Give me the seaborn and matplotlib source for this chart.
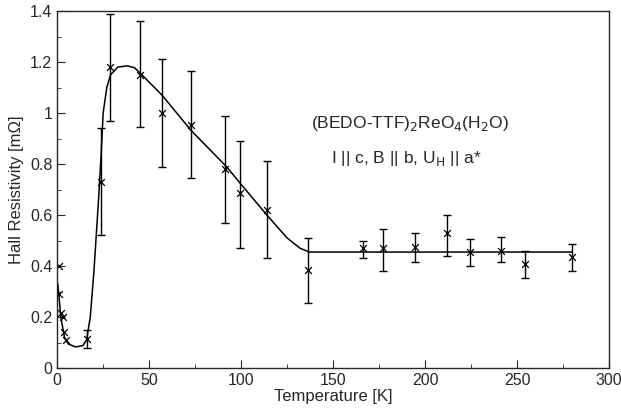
import numpy as np
import pandas as pd
import seaborn as sns
import matplotlib.pyplot as plt
from matplotlib.ticker import MultipleLocator

# measured points
temp = [1, 1, 2, 3, 4, 5, 16, 24, 29, 45, 57, 73, 91, 99.5, 114, 136.5, 166, 177, 194.5, 212, 224.5, 241, 254, 280]
rho = [0.40, 0.29, 0.215, 0.20, 0.14, 0.11, 0.115, 0.73, 1.18, 1.15, 1.00, 0.955, 0.78, 0.685, 0.62, 0.385,
       0.47, 0.47, 0.475, 0.53, 0.455, 0.46, 0.41, 0.435]
err_lo = [0, 0, 0, 0, 0, 0, 0.08, 0.52, 0.97, 0.945, 0.79, 0.745, 0.57, 0.47, 0.43, 0.255,
          0.43, 0.38, 0.415, 0.44, 0.40, 0.415, 0.355, 0.38]
err_hi = [0, 0, 0, 0, 0, 0, 0.15, 0.94, 1.39, 1.36, 1.21, 1.165, 0.99, 0.89, 0.81, 0.51,
          0.50, 0.545, 0.53, 0.60, 0.505, 0.515, 0.46, 0.485]

# guide curve
fit_t = [0.4, 2, 4, 6, 10, 14, 16, 18, 20, 22.5, 24, 25, 27, 29, 33, 38, 42, 46, 57, 73, 92, 100, 114,
         125, 132, 137, 280]
fit_r = [0.33, 0.20, 0.12, 0.095, 0.083, 0.088, 0.11, 0.2, 0.38, 0.66, 0.85, 1.00, 1.10, 1.15, 1.18, 1.185,
         1.178, 1.15, 1.07, 0.93, 0.79, 0.72, 0.60, 0.51, 0.47, 0.455, 0.455]

df = pd.DataFrame({'T': temp, 'R': rho, 'lo': err_lo, 'hi': err_hi})
df_fit = pd.DataFrame({'T': fit_t, 'R': fit_r})

sns.set_style('ticks')
plt.rcParams['font.family'] = ['Liberation Sans', 'DejaVu Sans']

fig, ax = plt.subplots(figsize=(6.21, 4.15), dpi=100)
fig.subplots_adjust(left=0.092, right=0.981, bottom=0.113, top=0.9735)

sns.lineplot(data=df_fit, x='T', y='R', color='black', lw=1.1, ax=ax)

eb = df[df['hi'] > 0]
ax.errorbar(eb['T'], eb['R'], yerr=[eb['R'] - eb['lo'], eb['hi'] - eb['R']],
            fmt='none', ecolor='black', elinewidth=1.0, capsize=3, capthick=1.0)
sns.scatterplot(data=df, x='T', y='R', marker='x', color='black', s=24, linewidth=0.9, ax=ax)

ax.set_xlim(0, 300)
ax.set_ylim(0, 1.4)
ax.xaxis.set_major_locator(MultipleLocator(50))
ax.xaxis.set_minor_locator(MultipleLocator(25))
ax.yaxis.set_major_locator(MultipleLocator(0.2))
ax.yaxis.set_minor_locator(MultipleLocator(0.1))
ax.yaxis.set_major_formatter(plt.FuncFormatter(lambda v, p: f'{v:g}'))
ax.tick_params(which='both', direction='in', top=False, right=False, labelsize=11.5)
ax.tick_params(which='major', length=6)
ax.tick_params(which='minor', length=3)
for s in ax.spines.values():
    s.set_linewidth(1.0)

ax.set_xlabel('Temperature [K]', fontsize=12, labelpad=1)
ax.set_ylabel('Hall Resistivity [m\u03a9]', fontsize=12, labelpad=4)

ax.text(0.64, 0.686, '(BEDO-TTF)$_2$ReO$_4$(H$_2$O)', transform=ax.transAxes,
        ha='center', va='center', fontsize=12.5)
ax.text(0.633, 0.588, 'I || c, B || b, U$_\\mathrm{H}$ || a*', transform=ax.transAxes,
        ha='center', va='center', fontsize=12.5)

fig.savefig('out.png', dpi=100)
